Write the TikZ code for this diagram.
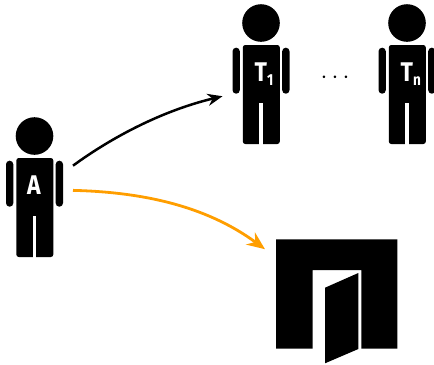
\documentclass[tikz,border=0pt]{standalone}
\usepackage{fontspec}
\setmainfont{Fira Sans}
\usetikzlibrary{arrows.meta}
\tikzset{
  personbox/.style={minimum width=77bp,minimum height=140bp,inner sep=0pt,outer sep=0pt},
  doorbox/.style={minimum width=143.4bp,minimum height=140bp,inner sep=0pt,outer sep=0pt},
  lab/.style={text=white,inner sep=0pt,anchor=base west,font=\fontsize{27bp}{27bp}\selectfont\bfseries},
  conn/.style={line width=2.5bp,-{Stealth[length=15bp,width=12bp]}},
  conno/.style={line width=2.8bp,-{Stealth[length=18bp,width=15bp]},draw=myorange}
}
\definecolor{myorange}{HTML}{FF9E00}
\newcommand{\subtxt}[1]{\raisebox{-4bp}{\fontsize{16bp}{16bp}\selectfont #1}}
\newcommand{\personfig}[5]{% name, x of centre, y of head centre, label, label dx
  \begin{scope}[shift={(#2,#3)}]
    \fill (0,0) circle (18.8);
    \fill[rounded corners=2.5bp] (-18.2,22) rectangle (18.8,121);
    \fill[white] (-1.7,80) rectangle (1.7,122);
    \fill[rounded corners=3.6bp] (-28.5,24.7) rectangle (-21.2,70.7);
    \fill[rounded corners=3.6bp] (21.2,24.7) rectangle (28.5,70.7);
    \node[personbox] (#1) at (0,51) {};
    \node[lab] (#1text) at (#5,58.5) {\scalebox{.85}[1]{#4}};
  \end{scope}}
\begin{document}
\begin{tikzpicture}[x=1bp,y=-1bp]
\useasboundingbox (0,0) rectangle (434,364);
\personfig{A}{34.5}{136}{A}{-7.5}
\personfig{Tone}{261}{23}{T\subtxt{1}}{-6.5}
\personfig{Tn}{407}{23}{T\subtxt{n}}{-6.5}
\node[inner sep=0pt,font=\fontsize{24bp}{24bp}\selectfont] (dots) at (335,78) {$\cdots$};
% door
\fill (276,239.3) -- (397.3,239.3) -- (397.3,348.7) -- (361.3,348.7) -- (361.3,270) -- (312.7,270) -- (312.7,348.7) -- (276,348.7) -- cycle;
\fill (325,287.7) -- (358.3,273) -- (358.3,349) -- (325,363.3) -- cycle;
\node[doorbox] (door) at (336.7,294) {};
\draw[conn] (A.29.7) .. controls (115,135) and (165,110) .. (Tone.210.8);
\draw[conno] (A.-5.9) .. controls (140,192) and (205,205) .. (door.148.5);
\end{tikzpicture}
\end{document}
